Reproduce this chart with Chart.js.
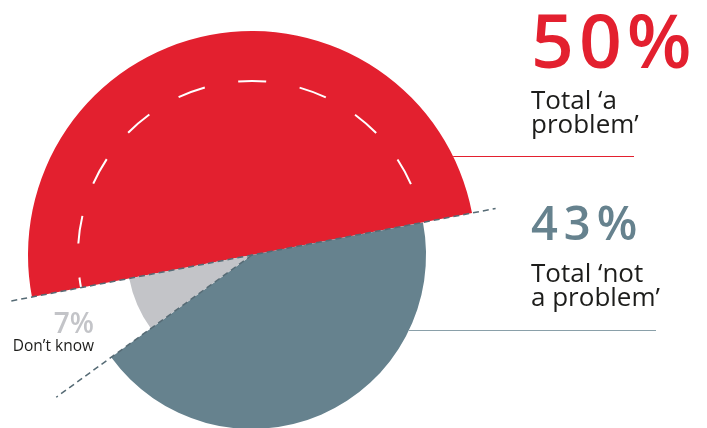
<!DOCTYPE html>
<html>
<head>
<meta charset="utf-8">
<script src="https://cdn.jsdelivr.net/npm/chart.js@4.4.1/dist/chart.umd.min.js"></script>
<style>
  html, body { margin: 0; padding: 0; background: #fff; overflow: hidden; width: 707px; height: 428px; }
  #wrap { position: relative; width: 707px; height: 500px; }
  #c { position: absolute; left: 0; top: 0; }
  .t { position: absolute; font-family: "Open Sans", sans-serif; white-space: nowrap; }
  .big { font-weight: 600; }
  .lab { color: #1d1d1b; font-size: 26px; line-height: 24px; }
</style>
</head>
<body>
<div id="wrap">
  <canvas id="c" width="707" height="500"></canvas>
  <div class="t big" style="left:531px; top:2px; font-size:75px; line-height:75px; color:#e3202f; letter-spacing:5px;">50%</div>
  <div class="t lab" style="left:531px; top:87px;">Total ‘a<br>problem’</div>
  <div class="t big" style="left:531px; top:199px; font-size:47px; line-height:47px; color:#66828e; letter-spacing:6px;">43%</div>
  <div class="t lab" style="left:531px; top:260px;">Total ‘not<br>a problem’</div>
  <div class="t big" style="right:613px; top:308px; font-size:28px; line-height:28px; color:#c3c4c8; text-align:right;">7%</div>
  <div class="t" style="right:613px; top:337px; font-size:15.5px; line-height:16px; color:#1d1d1b; text-align:right;">Don’t know</div>
</div>
<script>
// ---- data ----
const categories = ["Total ‘a problem’", "Total ‘not a problem’", "Don’t know"];
const values = [50, 43, 7];

// ---- styles ----
const colors = ["#e3202f", "#66828e", "#c3c4c8"];
const radiusScale = [1, 0.777, 0.558];
const startRotation = 259.2; // degrees

const shapePlugin = {
  id: 'shape',
  beforeDatasetsDraw(chart) {
    const meta = chart.getDatasetMeta(0);
    const maxR = meta.data[0].outerRadius > 0 ? chart._maxR || (chart._maxR = meta.data[0].outerRadius) : 0;
    meta.data.forEach((arc, i) => { arc.outerRadius = maxR * radiusScale[i]; });
  },
  afterDatasetsDraw(chart) {
    const meta = chart.getDatasetMeta(0);
    const red = meta.data[0], blue = meta.data[1];
    const cx = red.x, cy = red.y;
    const ctx = chart.ctx;
    ctx.save();
    // white dashed arc inside red slice
    ctx.strokeStyle = '#ffffff';
    ctx.lineWidth = 2;
    ctx.setLineDash([28, 34]);
    ctx.lineDashOffset = 17.7;
    ctx.beginPath();
    ctx.arc(cx, cy, blue.outerRadius, red.startAngle, 338 * Math.PI / 180);
    ctx.stroke();
    // dark dashed lines
    ctx.strokeStyle = '#566b75';
    ctx.lineWidth = 1.5;
    ctx.setLineDash([6, 4]);
    ctx.lineDashOffset = 0;
    const a1 = red.startAngle, a2 = red.endAngle;
    ctx.beginPath();
    ctx.moveTo(cx + Math.cos(a1) * 245, cy + Math.sin(a1) * 245);
    ctx.lineTo(cx + Math.cos(a2) * 248, cy + Math.sin(a2) * 248);
    ctx.stroke();
    const a3 = blue.endAngle;
    ctx.beginPath();
    ctx.moveTo(cx, cy);
    ctx.lineTo(cx + Math.cos(a3) * 242, cy + Math.sin(a3) * 242);
    ctx.stroke();
    // leader lines
    ctx.setLineDash([]);
    ctx.lineWidth = 1;
    const yR = 156.5, yB = 330.5;
    ctx.strokeStyle = '#e3202f';
    ctx.beginPath();
    ctx.moveTo(cx + Math.sqrt(red.outerRadius ** 2 - (yR - cy) ** 2), yR);
    ctx.lineTo(634, yR);
    ctx.stroke();
    ctx.strokeStyle = '#8aa0a9';
    ctx.beginPath();
    ctx.moveTo(cx + Math.sqrt(blue.outerRadius ** 2 - (yB - cy) ** 2), yB);
    ctx.lineTo(656, yB);
    ctx.stroke();
    ctx.restore();
  }
};

new Chart(document.getElementById('c'), {
  type: 'pie',
  data: {
    labels: categories,
    datasets: [{ data: values, backgroundColor: colors, borderWidth: 0 }]
  },
  options: {
    responsive: false,
    animation: false,
    events: [],
    rotation: startRotation,
    layout: { padding: { left: 28, right: 231, top: 31, bottom: 21 } },
    plugins: { legend: { display: false }, tooltip: { enabled: false } }
  },
  plugins: [shapePlugin]
});
</script>
</body>
</html>
